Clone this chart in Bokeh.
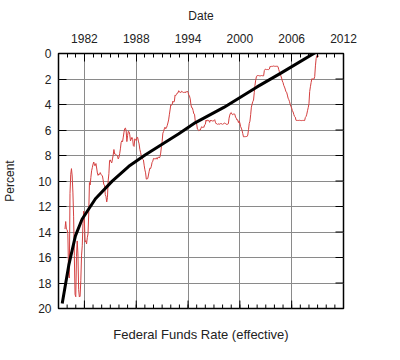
from bokeh.plotting import figure
from bokeh.models import Range1d, FixedTicker, LinearAxis
from bokeh.embed import file_html
from bokeh.resources import INLINE

# Effective federal funds rate, monthly, starting Oct 1979
start_year = 1979
start_month = 10
rate = [
    13.77, 13.18, 13.78,
    13.82, 14.13, 17.19, 17.61, 10.98, 9.47, 9.03, 9.61, 10.87, 12.81, 15.85, 18.90,
    19.08, 15.93, 14.70, 15.72, 18.52, 19.10, 19.04, 17.82, 15.87, 15.08, 13.31, 12.37,
    13.22, 14.78, 14.68, 14.94, 14.45, 14.15, 12.59, 10.12, 10.31, 9.71, 9.20, 8.95,
    8.68, 8.51, 8.77, 8.80, 8.63, 8.98, 9.37, 9.56, 9.45, 9.48, 9.34, 9.47,
    9.56, 9.59, 9.91, 10.29, 10.32, 11.06, 11.23, 11.64, 11.30, 9.99, 9.43, 8.38,
    8.35, 8.50, 8.58, 8.27, 7.97, 7.53, 7.88, 7.90, 7.92, 7.99, 8.05, 8.27,
    8.14, 7.86, 7.48, 6.99, 6.85, 6.92, 6.56, 6.17, 5.89, 5.85, 6.04, 6.91,
    6.43, 6.10, 6.13, 6.37, 6.85, 6.73, 6.58, 6.73, 7.22, 7.29, 6.69, 6.77,
    6.83, 6.58, 6.58, 6.87, 7.09, 7.51, 7.75, 8.01, 8.19, 8.30, 8.35, 8.76,
    9.12, 9.36, 9.85, 9.84, 9.81, 9.53, 9.24, 8.99, 9.02, 8.84, 8.55, 8.45,
    8.23, 8.24, 8.28, 8.26, 8.18, 8.29, 8.15, 8.13, 8.20, 8.11, 7.81, 7.31,
    6.91, 6.25, 6.12, 5.91, 5.78, 5.90, 5.82, 5.66, 5.45, 5.21, 4.81, 4.43,
    4.03, 4.06, 3.98, 3.73, 3.82, 3.76, 3.25, 3.30, 3.22, 3.10, 3.09, 2.92,
    3.02, 3.03, 3.07, 2.96, 3.00, 3.04, 3.06, 3.03, 3.09, 2.99, 3.02, 2.96,
    3.05, 3.25, 3.34, 3.56, 4.01, 4.25, 4.26, 4.47, 4.73, 4.76, 5.29, 5.45,
    5.53, 5.92, 5.98, 6.05, 6.01, 6.00, 5.85, 5.74, 5.80, 5.76, 5.80, 5.60,
    5.56, 5.22, 5.31, 5.22, 5.24, 5.27, 5.40, 5.22, 5.30, 5.24, 5.31, 5.29,
    5.25, 5.19, 5.39, 5.51, 5.50, 5.56, 5.52, 5.54, 5.54, 5.50, 5.52, 5.50,
    5.56, 5.51, 5.49, 5.45, 5.49, 5.56, 5.54, 5.55, 5.51, 5.07, 4.83, 4.68,
    4.63, 4.76, 4.81, 4.74, 4.74, 4.76, 4.99, 5.07, 5.22, 5.20, 5.42, 5.30,
    5.45, 5.73, 5.85, 6.02, 6.27, 6.53, 6.54, 6.50, 6.52, 6.51, 6.51, 6.40,
    5.98, 5.49, 5.31, 4.80, 4.21, 3.97, 3.77, 3.65, 3.07, 2.49, 2.09, 1.82,
    1.73, 1.74, 1.73, 1.75, 1.75, 1.75, 1.73, 1.74, 1.75, 1.75, 1.34, 1.24,
    1.24, 1.26, 1.25, 1.26, 1.26, 1.22, 1.01, 1.03, 1.01, 1.01, 1.00, 0.98,
    1.00, 1.01, 1.00, 1.00, 1.00, 1.03, 1.26, 1.43, 1.61, 1.76, 1.93, 2.16,
    2.28, 2.50, 2.63, 2.79, 3.00, 3.04, 3.26, 3.50, 3.62, 3.78, 4.00, 4.16,
    4.29, 4.49, 4.59, 4.79, 4.94, 4.99, 5.24, 5.25, 5.25, 5.25, 5.25, 5.24,
    5.25, 5.26, 5.26, 5.25, 5.25, 5.25, 5.26, 5.02, 4.94, 4.76, 4.49, 4.24,
    3.94, 2.98, 2.61, 2.28, 1.98, 2.00, 2.01, 2.00, 1.81, 0.97, 0.39, 0.16,
    0.15, 0.22, 0.18,
]
date = [start_year + (start_month - 1 + i) / 12 for i in range(len(rate))]

# Trend curve
trend_year = [1979.43, 1980.19, 1980.96, 1981.73, 1982.5, 1983.28, 1985.22,
              1987.14, 1989.07, 1991.0, 1992.93, 1994.86, 1998.14, 2001.99,
              2004.7, 2009.72]
trend_val = [19.6, 16.6, 14.3, 13.0, 12.2, 11.39, 10.01,
             8.85, 7.94, 7.11, 6.30, 5.42, 4.23, 2.62,
             1.56, -0.47]

x_ticks = [1982, 1988, 1994, 2000, 2006, 2012]
x_minor = list(range(1979, 2013))
y_ticks = [0, 2, 4, 6, 8, 10, 12, 14, 16, 18, 20]
x_lo, x_hi = 1979, 2012
y_lo, y_hi = 0, 20

FONT = "Liberation Sans"
TXT = "#222222"
FRAME_W, FRAME_H = 285, 257

p = figure(width=384, height=344, output_backend="svg", toolbar_location=None,
           x_range=Range1d(x_lo, x_hi), y_range=Range1d(y_hi, y_lo),
           x_axis_location="above",
           min_border_left=58, min_border_right=41, min_border_top=53, min_border_bottom=34)
p.background_fill_color = "white"
p.border_fill_color = "white"
p.outline_line_color = "black"
p.outline_line_width = 1.5

xt = FixedTicker(ticks=x_ticks, minor_ticks=x_minor)
yt = FixedTicker(ticks=y_ticks, minor_ticks=[])

p.xgrid.ticker = xt
p.ygrid.ticker = yt
for g in [p.xgrid[0], p.ygrid[0]]:
    g.grid_line_color = "#8a8a8a"
    g.grid_line_width = 1

# inward ticks on the bottom and right edges (drawn from the tick lists)
px_per_year = FRAME_W / (x_hi - x_lo)
px_per_pct = FRAME_H / (y_hi - y_lo)
p.segment(x0=x_minor, y0=[y_hi] * len(x_minor), x1=x_minor,
          y1=[y_hi - 4 / px_per_pct] * len(x_minor), line_color="black", line_width=1)
p.segment(x0=x_ticks, y0=[y_hi] * len(x_ticks), x1=x_ticks,
          y1=[y_hi - 8 / px_per_pct] * len(x_ticks), line_color="black", line_width=1)
p.segment(x0=[x_hi] * len(y_ticks), y0=y_ticks, x1=[x_hi - 8 / px_per_year] * len(y_ticks),
          y1=y_ticks, line_color="black", line_width=1)

p.line(date, rate, line_color="#d43f3f", line_width=1)
p.line(trend_year, trend_val, line_color="black", line_width=3)

xa = p.xaxis[0]
ya = p.yaxis[0]
xa.ticker = xt
ya.ticker = yt
xa.axis_label = "Date"
ya.axis_label = "Percent"

# bottom axis used only to carry the chart title
xb = LinearAxis(ticker=FixedTicker(ticks=[], minor_ticks=[]),
                axis_label="Federal Funds Rate (effective)")
p.add_layout(xb, "below")

for ax in [xa, ya, xb]:
    ax.axis_line_color = None
    ax.major_tick_in = 8
    ax.major_tick_out = 0
    ax.minor_tick_in = 4
    ax.minor_tick_out = 0
    ax.major_tick_line_color = "black"
    ax.minor_tick_line_color = "black"
    ax.major_label_text_font = FONT
    ax.major_label_text_font_size = "12px"
    ax.major_label_text_color = TXT
    ax.axis_label_text_font = FONT
    ax.axis_label_text_font_size = "12px"
    ax.axis_label_text_font_style = "normal"
    ax.axis_label_text_color = TXT

xa.major_label_standoff = 11
xa.axis_label_standoff = 8
ya.major_label_standoff = 7
ya.axis_label_standoff = 18
xb.major_tick_in = 0
xb.minor_tick_in = 0
xb.major_label_standoff = 0
xb.axis_label_standoff = 18
xb.axis_label_text_font_size = "13px"

open("out.html", "w").write(file_html(p, INLINE))
